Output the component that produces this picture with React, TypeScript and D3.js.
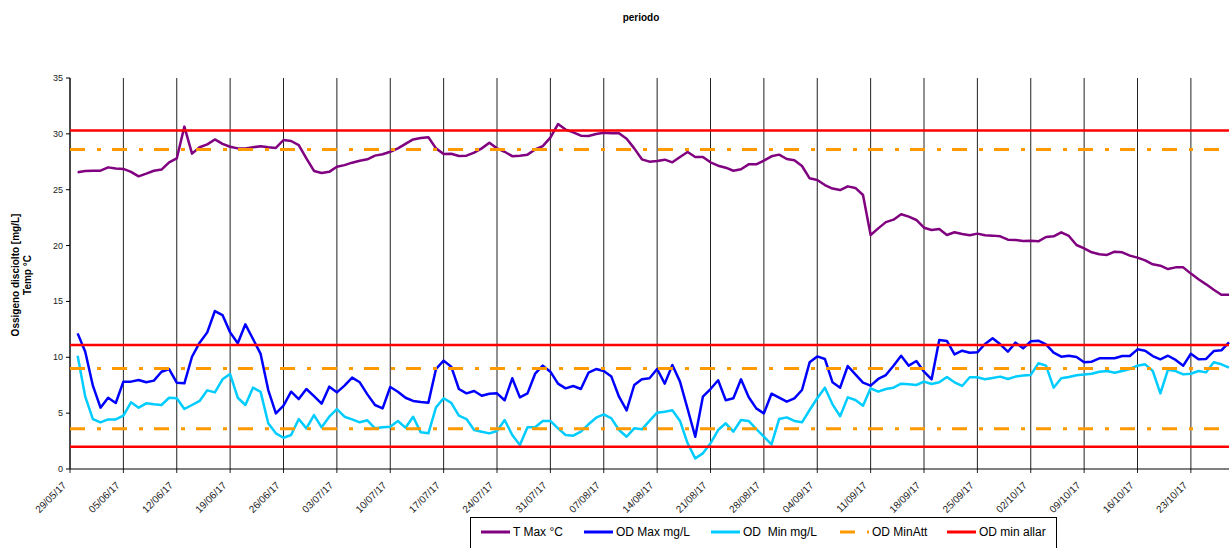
import React from "react";
import * as d3 from "d3";

// Daily values starting 30/05/17
const tMax = [
  26.56, 26.68, 26.7, 26.7, 27.0, 26.9, 26.86, 26.6, 26.2, 26.44,
  26.7, 26.8, 27.45, 27.8, 30.65, 28.23, 28.8, 29.06, 29.5, 29.1,
  28.85, 28.7, 28.7, 28.8, 28.9, 28.8, 28.74, 29.45, 29.36, 29.0,
  27.8, 26.68, 26.5, 26.6, 27.06, 27.2, 27.42, 27.6, 27.72, 28.05,
  28.17, 28.4, 28.7, 29.1, 29.5, 29.63, 29.7, 28.7, 28.2, 28.22,
  28.02, 28.05, 28.32, 28.7, 29.2, 28.7, 28.4, 28.0, 28.05, 28.14,
  28.6, 28.9, 29.66, 30.88, 30.38, 30.14, 29.84, 29.81, 29.99, 30.1,
  30.05, 30.05, 29.57, 28.7, 27.72, 27.51, 27.57, 27.69, 27.45, 27.93,
  28.38, 27.93, 27.93, 27.45, 27.15, 26.97, 26.7, 26.83, 27.27, 27.27,
  27.6, 27.99, 28.14, 27.75, 27.63, 27.12, 26.02, 25.87, 25.42, 25.1,
  24.97, 25.3, 25.16, 24.53, 20.95, 21.54, 22.1, 22.32, 22.8, 22.59,
  22.29, 21.6, 21.4, 21.48, 20.95, 21.19, 21.04, 20.92, 21.07, 20.92,
  20.89, 20.83, 20.53, 20.5, 20.41, 20.44, 20.38, 20.77, 20.83, 21.19,
  20.86, 20.05, 19.75, 19.4, 19.22, 19.16, 19.45, 19.4, 19.1, 18.92,
  18.68, 18.32, 18.2, 17.9, 18.05, 18.05, 17.49, 16.98, 16.53, 16.05,
  15.6, 15.6,
];

const odMax = [
  12.14, 10.5, 7.46, 5.49, 6.38, 5.91, 7.82, 7.82, 7.97, 7.76,
  7.91, 8.71, 8.95, 7.73, 7.67, 10.05, 11.31, 12.23, 14.14, 13.78,
  12.23, 11.25, 12.95, 11.64, 10.3, 7.07, 4.98, 5.67, 6.92, 6.26,
  7.16, 6.53, 5.85, 7.37, 6.86, 7.46, 8.18, 7.76, 6.68, 5.73,
  5.43, 7.34, 6.92, 6.38, 6.09, 6.0, 5.94, 8.95, 9.7, 9.16,
  7.16, 6.77, 6.98, 6.56, 6.74, 6.77, 6.15, 8.12, 6.41, 6.77,
  8.53, 9.25, 8.71, 7.64, 7.22, 7.43, 7.16, 8.62, 8.95, 8.77,
  8.27, 6.47, 5.25, 7.52, 8.03, 8.12, 8.95, 7.64, 9.31, 7.82,
  5.37, 2.89, 6.47, 7.16, 7.94, 6.15, 6.33, 8.03, 6.44, 5.43,
  4.98, 6.74, 6.38, 6.03, 6.33, 7.07, 9.55, 10.08, 9.85, 7.76,
  7.28, 9.22, 8.47, 7.73, 7.46, 8.06, 8.41, 9.25, 10.14, 9.25,
  9.67, 8.71, 8.03, 11.55, 11.46, 10.26, 10.59, 10.41, 10.44, 11.19,
  11.7, 11.16, 10.5, 11.31, 10.8, 11.43, 11.49, 11.16, 10.41, 10.05,
  10.14, 10.02, 9.55, 9.61, 9.91, 9.91, 9.91, 10.11, 10.11, 10.71,
  10.59, 10.11, 9.82, 10.14, 9.76, 9.25, 10.32, 9.82, 9.85, 10.56,
  10.62, 11.34,
];

const odMin = [
  10.14, 6.47, 4.47, 4.18, 4.44, 4.44, 4.77, 5.97, 5.49, 5.88,
  5.79, 5.73, 6.38, 6.33, 5.37, 5.73, 6.09, 7.04, 6.86, 8.03,
  8.5, 6.38, 5.73, 7.28, 6.9, 4.09, 3.19, 2.8, 3.04, 4.47,
  3.64, 4.83, 3.73, 4.68, 5.37, 4.68, 4.44, 4.18, 4.36, 3.64,
  3.73, 3.79, 4.3, 3.7, 4.68, 3.28, 3.19, 5.52, 6.33, 5.92,
  4.77, 4.47, 3.49, 3.34, 3.19, 3.4, 4.39, 3.04, 2.15, 3.73,
  3.73, 4.3, 4.3, 3.64, 3.04, 2.98, 3.34, 4.0, 4.59, 4.89,
  4.53, 3.49, 2.89, 3.64, 3.55, 4.3, 5.04, 5.13, 5.25, 4.3,
  2.3, 0.95, 1.4, 2.3, 3.49, 4.09, 3.34, 4.39, 4.3, 3.58,
  2.89, 2.21, 4.47, 4.62, 4.3, 4.18, 5.28, 6.33, 7.28, 5.79,
  4.72, 6.41, 6.18, 5.67, 7.22, 6.92, 7.16, 7.28, 7.64, 7.58,
  7.52, 7.82, 7.61, 7.76, 8.24, 7.76, 7.43, 8.21, 8.21, 8.03,
  8.15, 8.27, 8.06, 8.27, 8.36, 8.42, 9.46, 9.25, 7.28, 8.12,
  8.24, 8.39, 8.45, 8.53, 8.71, 8.77, 8.62, 8.77, 8.95, 9.25,
  9.37, 8.77, 6.77, 8.89, 8.77, 8.47, 8.53, 8.77, 8.65, 9.55,
  9.37, 9.07,
];

const odMinAtt = [3.6, 9.0, 28.6];
const odMinAllar = [2.0, 11.1, 30.3];

const yTicks = [0, 5, 10, 15, 20, 25, 30, 35];
const tickLabels = [
  "29/05/17", "05/06/17", "12/06/17", "19/06/17", "26/06/17", "03/07/17",
  "10/07/17", "17/07/17", "24/07/17", "31/07/17", "07/08/17", "14/08/17",
  "21/08/17", "28/08/17", "04/09/17", "11/09/17", "18/09/17", "25/09/17",
  "02/10/17", "09/10/17", "16/10/17", "23/10/17",
];

const startDate = new Date(Date.UTC(2017, 4, 29));
const endDate = new Date(Date.UTC(2017, 9, 28));
const dayMs = 86400000;

const legendItems = [
  { label: "T Max °C", color: "#800080", dash: "none", x: 481 },
  { label: "OD Max mg/L", color: "#0000FF", dash: "none", x: 584 },
  { label: "OD  Min mg/L", color: "#00CCFF", dash: "none", x: 711 },
  { label: "OD MinAtt", color: "#FF9900", dash: "15,12,4,11", x: 840 },
  { label: "OD min allar", color: "#FF0000", dash: "none", x: 947 },
];

export default function App() {
  const W = 1230;
  const H = 548;
  const left = 70;
  const right = 1229;
  const top = 78;
  const bottom = 469;
  const font = "'Liberation Sans', Arial, sans-serif";

  const x = d3.scaleUtc().domain([startDate, endDate]).range([left, right]);
  const y = d3.scaleLinear().domain([0, 35]).range([bottom, top]);

  const dateOf = (i: number) => new Date(startDate.getTime() + (i + 1) * dayMs);
  const line = d3
    .line<number>()
    .x((_, i) => x(dateOf(i)))
    .y((v) => y(v));

  const tickDates = tickLabels.map((_, i) => new Date(startDate.getTime() + i * 7 * dayMs));

  const series = [
    { data: tMax, color: "#800080" },
    { data: odMax, color: "#0000FF" },
    { data: odMin, color: "#00CCFF" },
  ];

  return (
    <svg
      width={W}
      height={H}
      style={{ position: "absolute", left: 0, top: 0, background: "#fff" }}
      fontFamily={font}
    >
      <rect x={0} y={0} width={W} height={H} fill="#fff" />
      <text x={641} y={21} textAnchor="middle" fontSize={10} fontWeight="bold">
        periodo
      </text>
      {/* y title */}
      <g transform="translate(19,275) rotate(-90)">
        <text textAnchor="middle" fontSize={10} fontWeight="bold" y={0}>
          Ossigeno disciolto [mg/L]
        </text>
        <text textAnchor="middle" fontSize={10} fontWeight="bold" y={12}>
          Temp °C
        </text>
      </g>
      {/* vertical gridlines */}
      {tickDates.map((d, i) => (
        <line
          key={"g" + i}
          x1={x(d)}
          x2={x(d)}
          y1={top}
          y2={bottom + 4}
          stroke="#222"
          strokeWidth={1}
        />
      ))}
      {/* y axis */}
      <line x1={left} x2={left} y1={top} y2={bottom} stroke="#000" strokeWidth={1} />
      {yTicks.map((t) => (
        <g key={"yt" + t}>
          <line x1={left - 4} x2={left} y1={y(t)} y2={y(t)} stroke="#000" />
          <text x={left - 7} y={y(t) + 3} textAnchor="end" fontSize={9} fill="#222">
            {t}
          </text>
        </g>
      ))}
      {/* x axis */}
      <line x1={left} x2={right} y1={bottom} y2={bottom} stroke="#000" strokeWidth={1} />
      {tickDates.map((d, i) => (
        <text
          key={"xl" + i}
          transform={`translate(${x(d) - 3},${bottom + 17}) rotate(-45)`}
          textAnchor="end"
          fontSize={10}
          fill="#222"
        >
          {tickLabels[i]}
        </text>
      ))}
      {/* series */}
      {series.map((s, i) => (
        <path
          key={"s" + i}
          d={line(s.data) || ""}
          fill="none"
          stroke={s.color}
          strokeWidth={2.5}
          strokeLinejoin="round"
        />
      ))}
      {/* thresholds */}
      {odMinAtt.map((v, i) => (
        <line
          key={"att" + i}
          x1={left}
          x2={right}
          y1={y(v)}
          y2={y(v)}
          stroke="#FF9900"
          strokeWidth={3}
          strokeDasharray="15,12,4,11"
        />
      ))}
      {odMinAllar.map((v, i) => (
        <line
          key={"all" + i}
          x1={left}
          x2={right}
          y1={y(v)}
          y2={y(v)}
          stroke="#FF0000"
          strokeWidth={2.5}
        />
      ))}
      {/* legend */}
      <rect x={470.5} y={517.5} width={586} height={40} fill="#fff" stroke="#000" strokeWidth={1} />
      {legendItems.map((it, i) => (
        <g key={"lg" + i}>
          <line
            x1={it.x}
            x2={it.x + 29}
            y1={532}
            y2={532}
            stroke={it.color}
            strokeWidth={3}
            strokeDasharray={it.dash}
          />
          <text x={it.x + 32} y={536} fontSize={12} style={{ whiteSpace: "pre" }}>
            {it.label}
          </text>
        </g>
      ))}
    </svg>
  );
}
